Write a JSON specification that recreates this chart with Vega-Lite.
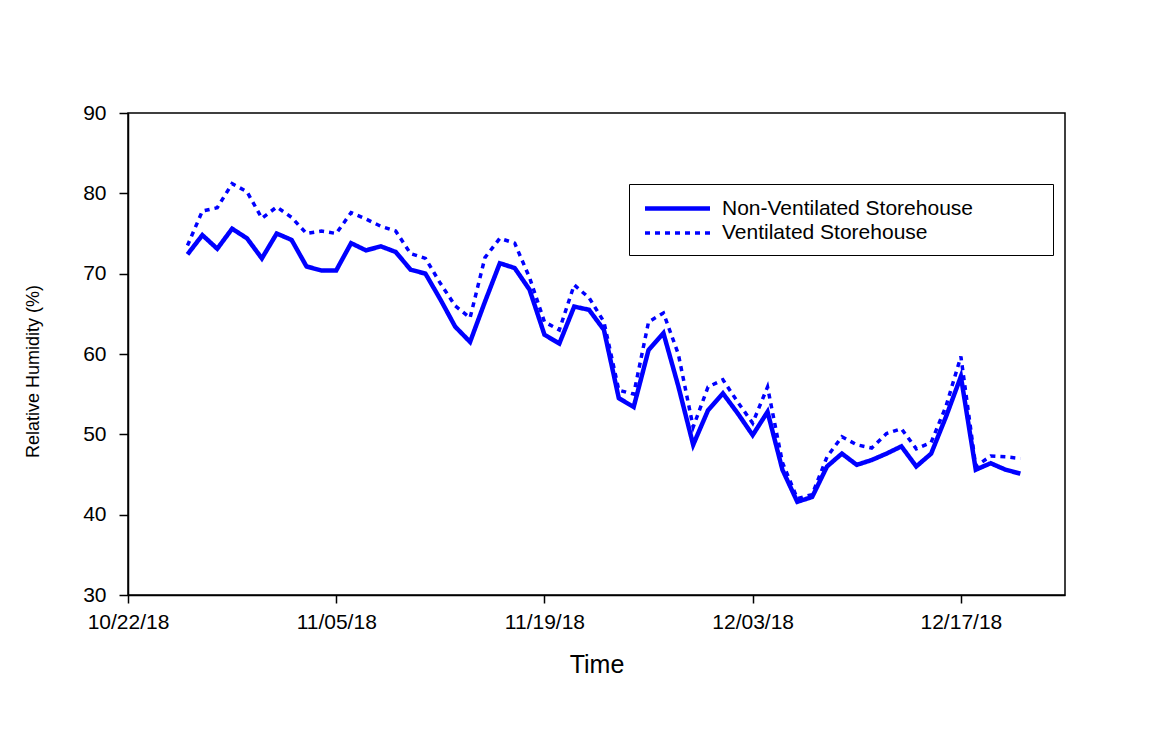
{
  "$schema": "https://vega.github.io/schema/vega-lite/v6.json",
  "width": 937,
  "height": 482,
  "autosize": {"type": "none"},
  "padding": {"left": 128, "top": 113, "right": 90, "bottom": 158},
  "background": "white",
  "config": {
    "font": "Liberation Sans",
    "view": {"stroke": "black", "strokeWidth": 1.5},
    "axis": {"grid": false, "domainColor": "black", "domainWidth": 1.5, "tickColor": "black", "tickWidth": 1.5, "labelColor": "black", "titleColor": "black", "labelFont": "Liberation Sans", "titleFont": "Liberation Sans", "titleFontWeight": "normal"}
  },
  "data": {"values": [
    {"date":"2018-10-26","series":"Non-Ventilated Storehouse","rh":72.4},
    {"date":"2018-10-27","series":"Non-Ventilated Storehouse","rh":74.8},
    {"date":"2018-10-28","series":"Non-Ventilated Storehouse","rh":73.1},
    {"date":"2018-10-29","series":"Non-Ventilated Storehouse","rh":75.6},
    {"date":"2018-10-30","series":"Non-Ventilated Storehouse","rh":74.4},
    {"date":"2018-10-31","series":"Non-Ventilated Storehouse","rh":71.9},
    {"date":"2018-11-01","series":"Non-Ventilated Storehouse","rh":75.0},
    {"date":"2018-11-02","series":"Non-Ventilated Storehouse","rh":74.2},
    {"date":"2018-11-03","series":"Non-Ventilated Storehouse","rh":70.9},
    {"date":"2018-11-04","series":"Non-Ventilated Storehouse","rh":70.4},
    {"date":"2018-11-05","series":"Non-Ventilated Storehouse","rh":70.4},
    {"date":"2018-11-06","series":"Non-Ventilated Storehouse","rh":73.8},
    {"date":"2018-11-07","series":"Non-Ventilated Storehouse","rh":72.9},
    {"date":"2018-11-08","series":"Non-Ventilated Storehouse","rh":73.4},
    {"date":"2018-11-09","series":"Non-Ventilated Storehouse","rh":72.7},
    {"date":"2018-11-10","series":"Non-Ventilated Storehouse","rh":70.5},
    {"date":"2018-11-11","series":"Non-Ventilated Storehouse","rh":70.0},
    {"date":"2018-11-12","series":"Non-Ventilated Storehouse","rh":66.8},
    {"date":"2018-11-13","series":"Non-Ventilated Storehouse","rh":63.4},
    {"date":"2018-11-14","series":"Non-Ventilated Storehouse","rh":61.5},
    {"date":"2018-11-15","series":"Non-Ventilated Storehouse","rh":66.5},
    {"date":"2018-11-16","series":"Non-Ventilated Storehouse","rh":71.3},
    {"date":"2018-11-17","series":"Non-Ventilated Storehouse","rh":70.7},
    {"date":"2018-11-18","series":"Non-Ventilated Storehouse","rh":68.0},
    {"date":"2018-11-19","series":"Non-Ventilated Storehouse","rh":62.4},
    {"date":"2018-11-20","series":"Non-Ventilated Storehouse","rh":61.3},
    {"date":"2018-11-21","series":"Non-Ventilated Storehouse","rh":65.9},
    {"date":"2018-11-22","series":"Non-Ventilated Storehouse","rh":65.5},
    {"date":"2018-11-23","series":"Non-Ventilated Storehouse","rh":63.0},
    {"date":"2018-11-24","series":"Non-Ventilated Storehouse","rh":54.5},
    {"date":"2018-11-25","series":"Non-Ventilated Storehouse","rh":53.4},
    {"date":"2018-11-26","series":"Non-Ventilated Storehouse","rh":60.5},
    {"date":"2018-11-27","series":"Non-Ventilated Storehouse","rh":62.6},
    {"date":"2018-11-28","series":"Non-Ventilated Storehouse","rh":56.0},
    {"date":"2018-11-29","series":"Non-Ventilated Storehouse","rh":48.7},
    {"date":"2018-11-30","series":"Non-Ventilated Storehouse","rh":53.0},
    {"date":"2018-12-01","series":"Non-Ventilated Storehouse","rh":55.1},
    {"date":"2018-12-02","series":"Non-Ventilated Storehouse","rh":52.6},
    {"date":"2018-12-03","series":"Non-Ventilated Storehouse","rh":49.9},
    {"date":"2018-12-04","series":"Non-Ventilated Storehouse","rh":52.8},
    {"date":"2018-12-05","series":"Non-Ventilated Storehouse","rh":45.6},
    {"date":"2018-12-06","series":"Non-Ventilated Storehouse","rh":41.6},
    {"date":"2018-12-07","series":"Non-Ventilated Storehouse","rh":42.2},
    {"date":"2018-12-08","series":"Non-Ventilated Storehouse","rh":46.0},
    {"date":"2018-12-09","series":"Non-Ventilated Storehouse","rh":47.6},
    {"date":"2018-12-10","series":"Non-Ventilated Storehouse","rh":46.2},
    {"date":"2018-12-11","series":"Non-Ventilated Storehouse","rh":46.8},
    {"date":"2018-12-12","series":"Non-Ventilated Storehouse","rh":47.6},
    {"date":"2018-12-13","series":"Non-Ventilated Storehouse","rh":48.5},
    {"date":"2018-12-14","series":"Non-Ventilated Storehouse","rh":46.0},
    {"date":"2018-12-15","series":"Non-Ventilated Storehouse","rh":47.6},
    {"date":"2018-12-16","series":"Non-Ventilated Storehouse","rh":52.2},
    {"date":"2018-12-17","series":"Non-Ventilated Storehouse","rh":57.2},
    {"date":"2018-12-18","series":"Non-Ventilated Storehouse","rh":45.6},
    {"date":"2018-12-19","series":"Non-Ventilated Storehouse","rh":46.4},
    {"date":"2018-12-20","series":"Non-Ventilated Storehouse","rh":45.6},
    {"date":"2018-12-21","series":"Non-Ventilated Storehouse","rh":45.1},
    {"date":"2018-10-26","series":"Ventilated Storehouse","rh":73.5},
    {"date":"2018-10-27","series":"Ventilated Storehouse","rh":77.8},
    {"date":"2018-10-28","series":"Ventilated Storehouse","rh":78.2},
    {"date":"2018-10-29","series":"Ventilated Storehouse","rh":81.2},
    {"date":"2018-10-30","series":"Ventilated Storehouse","rh":80.2},
    {"date":"2018-10-31","series":"Ventilated Storehouse","rh":76.9},
    {"date":"2018-11-01","series":"Ventilated Storehouse","rh":78.3},
    {"date":"2018-11-02","series":"Ventilated Storehouse","rh":77.0},
    {"date":"2018-11-03","series":"Ventilated Storehouse","rh":75.0},
    {"date":"2018-11-04","series":"Ventilated Storehouse","rh":75.3},
    {"date":"2018-11-05","series":"Ventilated Storehouse","rh":75.0},
    {"date":"2018-11-06","series":"Ventilated Storehouse","rh":77.6},
    {"date":"2018-11-07","series":"Ventilated Storehouse","rh":76.8},
    {"date":"2018-11-08","series":"Ventilated Storehouse","rh":75.9},
    {"date":"2018-11-09","series":"Ventilated Storehouse","rh":75.3},
    {"date":"2018-11-10","series":"Ventilated Storehouse","rh":72.5},
    {"date":"2018-11-11","series":"Ventilated Storehouse","rh":71.9},
    {"date":"2018-11-12","series":"Ventilated Storehouse","rh":68.8},
    {"date":"2018-11-13","series":"Ventilated Storehouse","rh":66.0},
    {"date":"2018-11-14","series":"Ventilated Storehouse","rh":64.5},
    {"date":"2018-11-15","series":"Ventilated Storehouse","rh":72.0},
    {"date":"2018-11-16","series":"Ventilated Storehouse","rh":74.4},
    {"date":"2018-11-17","series":"Ventilated Storehouse","rh":73.8},
    {"date":"2018-11-18","series":"Ventilated Storehouse","rh":69.5},
    {"date":"2018-11-19","series":"Ventilated Storehouse","rh":64.0},
    {"date":"2018-11-20","series":"Ventilated Storehouse","rh":63.0},
    {"date":"2018-11-21","series":"Ventilated Storehouse","rh":68.6},
    {"date":"2018-11-22","series":"Ventilated Storehouse","rh":67.0},
    {"date":"2018-11-23","series":"Ventilated Storehouse","rh":64.0},
    {"date":"2018-11-24","series":"Ventilated Storehouse","rh":55.5},
    {"date":"2018-11-25","series":"Ventilated Storehouse","rh":55.0},
    {"date":"2018-11-26","series":"Ventilated Storehouse","rh":64.0},
    {"date":"2018-11-27","series":"Ventilated Storehouse","rh":65.1},
    {"date":"2018-11-28","series":"Ventilated Storehouse","rh":60.0},
    {"date":"2018-11-29","series":"Ventilated Storehouse","rh":50.9},
    {"date":"2018-11-30","series":"Ventilated Storehouse","rh":55.9},
    {"date":"2018-12-01","series":"Ventilated Storehouse","rh":56.8},
    {"date":"2018-12-02","series":"Ventilated Storehouse","rh":54.0},
    {"date":"2018-12-03","series":"Ventilated Storehouse","rh":51.4},
    {"date":"2018-12-04","series":"Ventilated Storehouse","rh":55.9},
    {"date":"2018-12-05","series":"Ventilated Storehouse","rh":46.5},
    {"date":"2018-12-06","series":"Ventilated Storehouse","rh":42.0},
    {"date":"2018-12-07","series":"Ventilated Storehouse","rh":42.5},
    {"date":"2018-12-08","series":"Ventilated Storehouse","rh":47.2},
    {"date":"2018-12-09","series":"Ventilated Storehouse","rh":49.7},
    {"date":"2018-12-10","series":"Ventilated Storehouse","rh":48.7},
    {"date":"2018-12-11","series":"Ventilated Storehouse","rh":48.3},
    {"date":"2018-12-12","series":"Ventilated Storehouse","rh":50.1},
    {"date":"2018-12-13","series":"Ventilated Storehouse","rh":50.7},
    {"date":"2018-12-14","series":"Ventilated Storehouse","rh":48.2},
    {"date":"2018-12-15","series":"Ventilated Storehouse","rh":49.0},
    {"date":"2018-12-16","series":"Ventilated Storehouse","rh":53.5},
    {"date":"2018-12-17","series":"Ventilated Storehouse","rh":59.7},
    {"date":"2018-12-18","series":"Ventilated Storehouse","rh":46.0},
    {"date":"2018-12-19","series":"Ventilated Storehouse","rh":47.3},
    {"date":"2018-12-20","series":"Ventilated Storehouse","rh":47.2},
    {"date":"2018-12-21","series":"Ventilated Storehouse","rh":47.0}
  ]},
  "mark": {"type": "line", "color": "#0000ff", "clip": true},
  "encoding": {
    "x": {
      "field": "date", "type": "temporal", "title": "Time",
      "scale": {"type": "utc", "domain": [{"year": 2018, "month": 10, "date": 22, "utc": true}, {"year": 2018, "month": 12, "date": 24, "utc": true}]},
      "axis": {
        "values": [
          {"year": 2018, "month": 10, "date": 22, "utc": true},
          {"year": 2018, "month": 11, "date": 5, "utc": true},
          {"year": 2018, "month": 11, "date": 19, "utc": true},
          {"year": 2018, "month": 12, "date": 3, "utc": true},
          {"year": 2018, "month": 12, "date": 17, "utc": true}
        ],
        "labelExpr": "utcFormat(datum.value, '%m/%d/%y')",
        "labelFontSize": 21, "tickSize": 8, "labelPadding": 8, "labelFlush": false,
        "titleFontSize": 25, "titlePadding": 20
      }
    },
    "y": {
      "field": "rh", "type": "quantitative", "title": "Relative Humidity (%)",
      "scale": {"domain": [30, 90], "nice": false, "zero": false},
      "axis": {
        "values": [30, 40, 50, 60, 70, 80, 90],
        "labelFontSize": 21, "tickSize": 9, "labelPadding": 13,
        "titleFontSize": 18, "titleX": -95, "titleY": 258, "titleAlign": "center", "titleBaseline": "middle", "titleAngle": -90
      }
    },
    "strokeWidth": {
      "field": "series", "type": "nominal",
      "scale": {"domain": ["Non-Ventilated Storehouse", "Ventilated Storehouse"], "range": [4.5, 3.5]},
      "legend": null
    },
    "strokeDash": {
      "field": "series", "type": "nominal",
      "scale": {"domain": ["Non-Ventilated Storehouse", "Ventilated Storehouse"], "range": [[1, 0], [5, 5]]},
      "legend": {
        "title": "\u00a0", "titleOrient": "right", "titlePadding": 68, "titleFontSize": 10,
        "orient": "none", "legendX": 501, "legendY": 71,
        "symbolType": "M-3.25,0H3.25", "symbolStrokeColor": "#0000ff", "symbolStrokeWidth": 3.5, "symbolSize": 400, "symbolOffset": 24,
        "labelFontSize": 21, "labelColor": "black", "labelFont": "Liberation Sans", "labelLimit": 0, "labelOffset": 32,
        "rowPadding": 2,
        "strokeColor": "black", "fillColor": "white", "padding": 12
      }
    }
  }
}
